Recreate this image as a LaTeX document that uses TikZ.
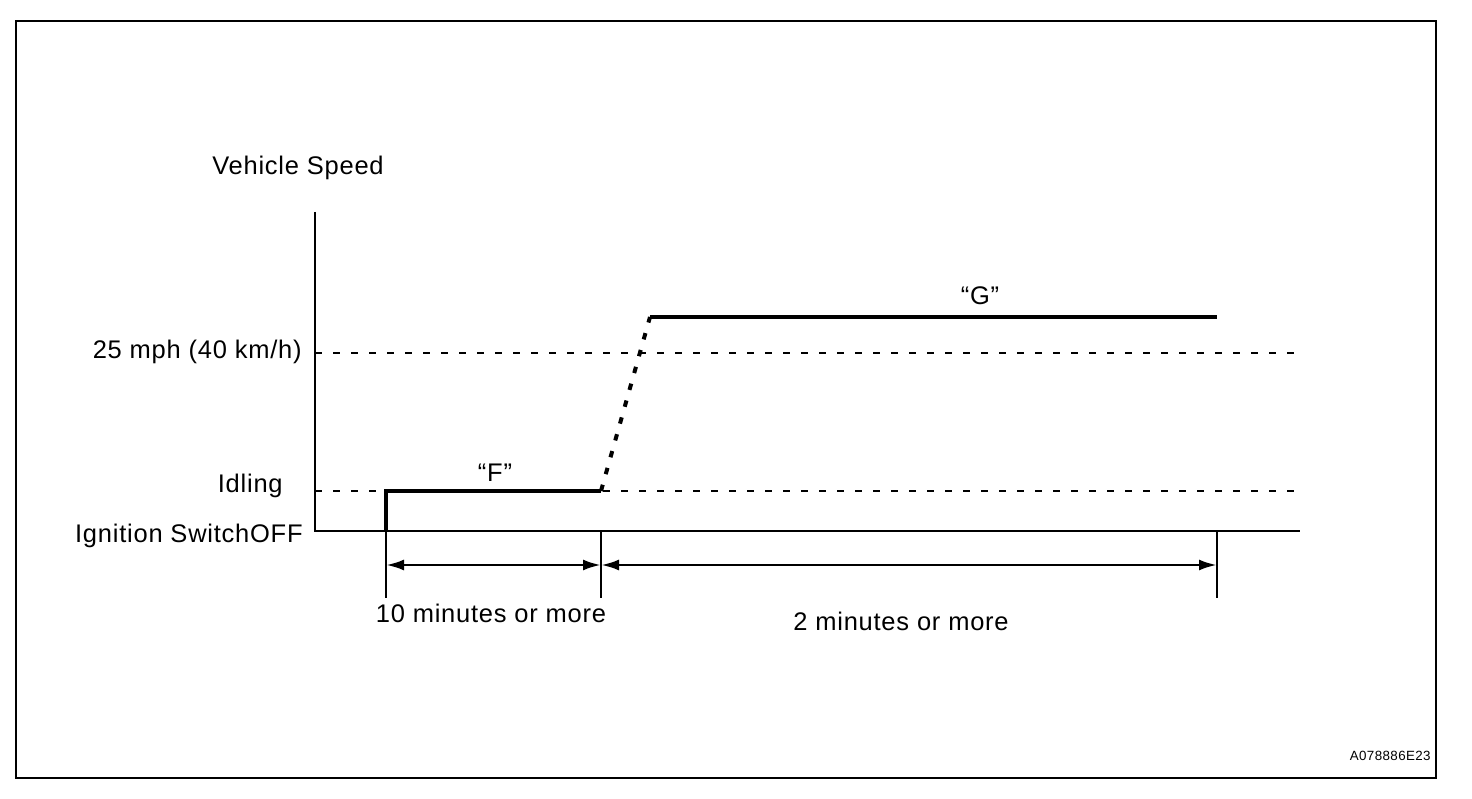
\documentclass[tikz,border=0pt]{standalone}
\usepackage{fontspec}
\setmainfont{Liberation Sans}[LetterSpace=3]
\usepackage{tikz}
\usetikzlibrary{arrows.meta,positioning}
\definecolor{ink}{RGB}{0,0,0}
\tikzset{
  frame/.style={draw=ink,line width=0.04cm},
  axis/.style={draw=ink,line width=0.04cm},
  guide/.style={draw=ink,line width=0.035cm,dash pattern=on 0.14cm off 0.22cm},
  speed/.style={draw=ink,line width=0.08cm},
  ramp/.style={draw=ink,line width=0.08cm,dash pattern=on 0.13cm off 0.22cm},
  dimarr/.style={{Latex[length=0.36cm,width=0.22cm]}-{Latex[length=0.36cm,width=0.22cm]},line width=0.055cm},
  lbl/.style={font=\fontsize{14.5}{17}\selectfont,inner sep=0pt},
}
\begin{document}
\begin{tikzpicture}
\useasboundingbox (0,0) rectangle (29.44,15.96);
% outer frame
\draw[frame] (0.32,15.54) rectangle (28.72,0.40);
% axes
\coordinate (O) at (6.30,5.34);
\coordinate (ytop) at (6.30,11.72);
\coordinate (xend) at (26.00,5.34);
\draw[axis] (ytop) -- (O) -- (xend);
% speed levels
\coordinate (fast0) at (6.30,8.90);
\coordinate (fast1) at (26.00,8.90);
\coordinate (idle0) at (6.30,6.14);
\coordinate (idle1) at (26.00,6.14);
\draw[guide] (fast0) -- (fast1);
\draw[guide] (idle0) -- (idle1);
% speed profile
\coordinate (pA) at (7.72,5.34);
\coordinate (pB) at (7.72,6.14);
\coordinate (pC) at (12.02,6.14);
\coordinate (pD) at (13.00,9.62);
\coordinate (pE) at (24.34,9.62);
\draw[speed] (pA) -- (pB) -- (pC);
\draw[ramp] (pC) -- (pD);
\draw[speed] (pD) -- (pE);
% time marks
\coordinate (t1) at (7.72,4.00);
\coordinate (t2b) at (12.02,5.34);
\coordinate (t2) at (12.02,4.00);
\coordinate (t3b) at (24.34,5.34);
\coordinate (t3) at (24.34,4.00);
\draw[axis] (pA) -- (t1);
\draw[axis] (t2b) -- (t2);
\draw[axis] (t3b) -- (t3);
\coordinate (a1) at (7.72,4.66);
\coordinate (a2) at (12.02,4.66);
\coordinate (a3) at (24.34,4.66);
\draw[dimarr] (a1) -- (a2);
\draw[dimarr] (a2) -- (a3);
% labels
\node[lbl] (vs) at (5.96,12.60) {Vehicle Speed};
\node[lbl,anchor=east] (mph) at (6.04,8.92) {25 mph (40 km/h)};
\node[lbl,anchor=east] (idl) at (5.66,6.24) {Idling};
\node[lbl,anchor=east] (ign) at (6.06,5.24) {Ignition SwitchOFF};
\node[lbl] (lf) at (9.90,6.50) {“F”};
\node[lbl] (lg) at (19.60,10.04) {“G”};
\node[lbl] (ten) at (9.82,3.70) {10 minutes or more};
\node[lbl] (two) at (18.02,3.54) {2 minutes or more};
\node[font=\fontsize{7.6}{9}\selectfont,inner sep=0pt,anchor=east] (code) at (28.62,0.84) {A078886E23};
\end{tikzpicture}
\end{document}
